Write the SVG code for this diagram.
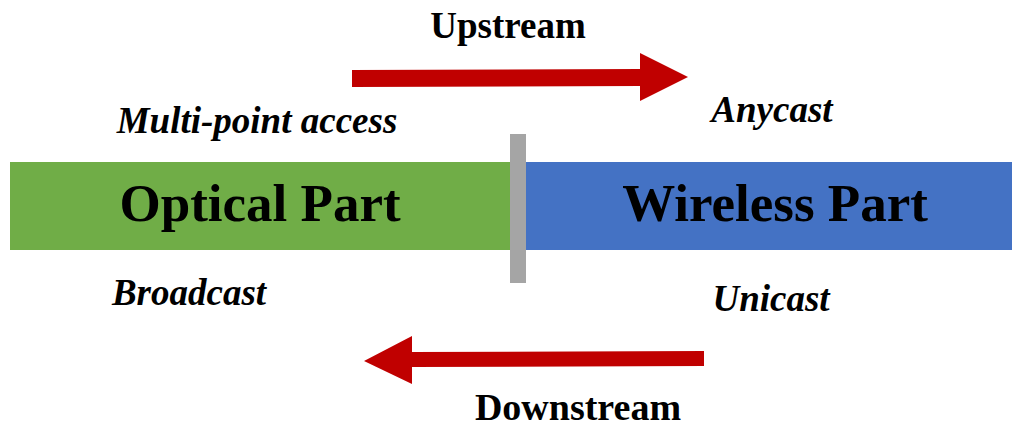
<svg xmlns="http://www.w3.org/2000/svg" width="1012" height="428" viewBox="0 0 1012 428">
  <style>
    .label { font-family: "Liberation Serif", "Times New Roman", serif; fill: #000; text-anchor: middle; }
    .title { font-size: 37px; font-weight: bold; }
    .part { font-size: 53px; font-weight: bold; }
    .mode { font-size: 37px; font-weight: bold; font-style: italic; }
    .flow { fill: #C00000; }
  </style>
  <rect width="1012" height="428" fill="#fff"/>

  <!-- optical segment -->
  <g id="optical">
    <rect x="10" y="162" width="500" height="88" fill="#70AD47"/>
    <text class="label part" x="260" y="221">Optical Part</text>
  </g>

  <!-- wireless segment -->
  <g id="wireless">
    <rect x="525" y="162" width="487" height="88" fill="#4472C4"/>
    <text class="label part" x="775" y="221">Wireless Part</text>
  </g>

  <!-- interface between the two parts -->
  <g id="interface">
    <rect x="510" y="134" width="16" height="149" fill="#A5A5A5"/>
  </g>

  <!-- transmission modes -->
  <g id="modes">
    <text class="label mode" x="257" y="133">Multi-point access</text>
    <text class="label mode" x="772" y="122">Anycast</text>
    <text class="label mode" x="189" y="305">Broadcast</text>
    <text class="label mode" x="771" y="311">Unicast</text>
  </g>

  <!-- direction arrows -->
  <g id="connectors">
    <g id="upstream">
      <polygon class="flow" points="352,70 640,69 640,53 688,77 640,101 640,86 352,87"/>
      <text class="label title" x="508" y="38">Upstream</text>
    </g>
    <g id="downstream">
      <polygon class="flow" points="704,351 412,352 412,336 364,361 412,384 412,367 704,366"/>
      <text class="label title" x="578" y="420" style="font-size:38px">Downstream</text>
    </g>
  </g>
</svg>
